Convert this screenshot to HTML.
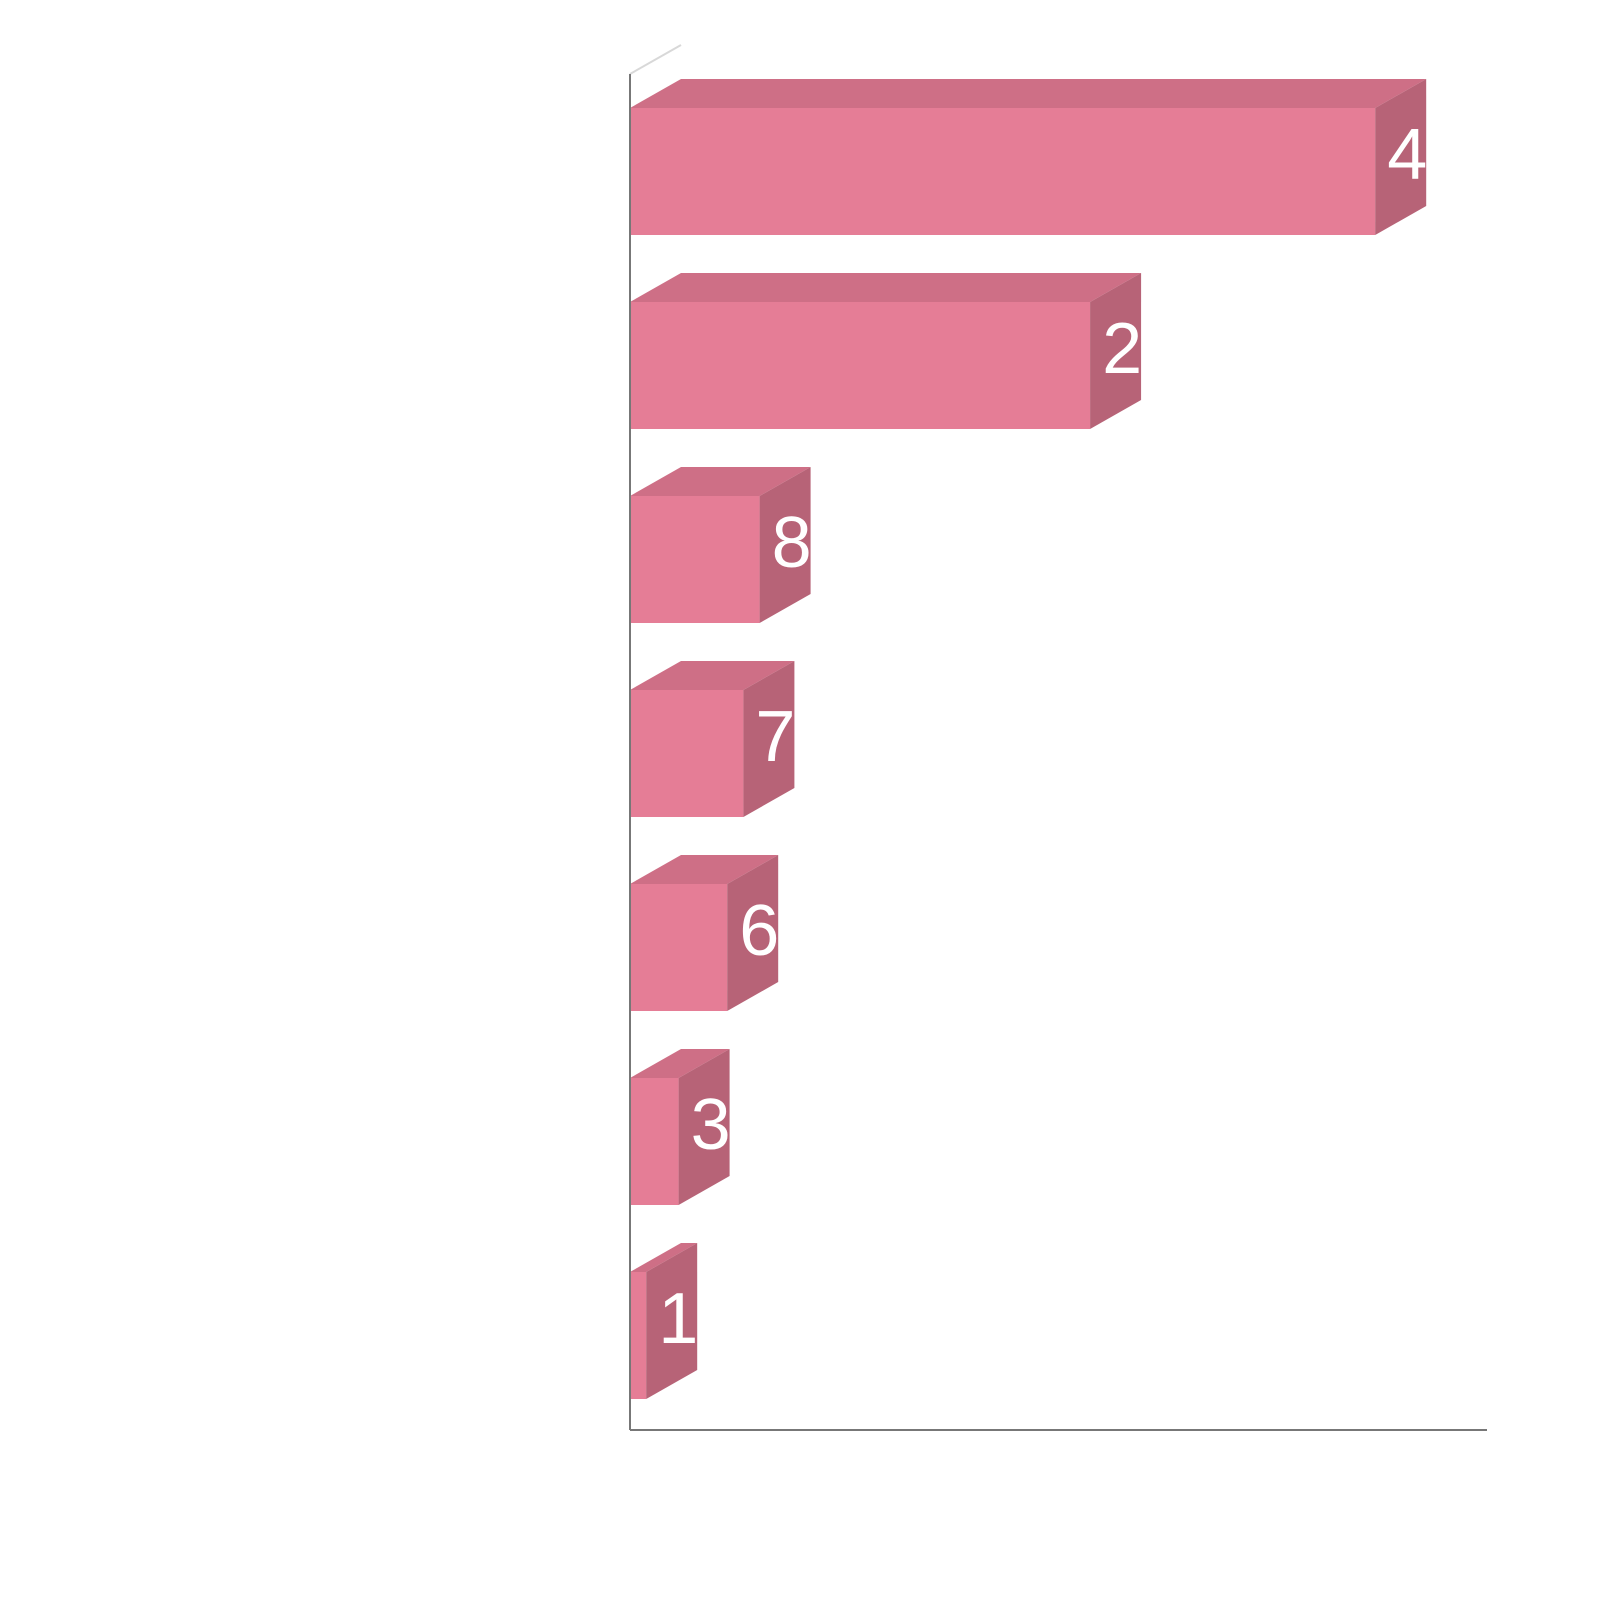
<!DOCTYPE html>
<html><head><meta charset="utf-8"><style>
html,body{margin:0;padding:0;background:#fff}
svg{display:block;font-family:"Liberation Sans",sans-serif}
</style></head><body>
<svg id="chart" width="1600" height="1600" viewBox="0 0 1600 1600">
<defs id="defs"></defs>
<line x1="630" y1="74" x2="681" y2="45" stroke="#d8d8d8" stroke-width="2"/>
<g id="bars"></g>
<line x1="630" y1="74" x2="630" y2="1430" stroke="#777" stroke-width="2"/>
<line x1="630" y1="1430" x2="1487" y2="1430" stroke="#777" stroke-width="2"/>
</svg>
<script>
const categories = ["A","B","C","D","E","F","G"];
const values = [46, 28.4, 8, 7, 6, 3, 1];
const labels = ["46","28","8","7","6","3","1"];

const x0 = 630, scale = 16.2, dx = 51, dy = 29;
const top0 = 108, step = 194, barH = 127;
const xScale = v => x0 + v * scale;
const yBand = i => top0 + i * step;
const ns = "http://www.w3.org/2000/svg";
const g = document.getElementById("bars");
const defs = document.getElementById("defs");
function mk(tag, attrs, parent){
  const e = document.createElementNS(ns, tag);
  for (const k in attrs) e.setAttribute(k, attrs[k]);
  parent.appendChild(e); return e;
}
values.forEach((v, i) => {
  const xr = xScale(v), yt = yBand(i), yb = yt + barH;
  const grp = mk("g", {}, g);
  
  
  const top = mk("polygon", {points: `${x0},${yt} ${x0+dx},${yt-dy} ${xr+dx},${yt-dy} ${xr},${yt}`, fill: "#CE6F86"}, grp);
  
  
  const front = mk("rect", {x: x0, y: yt, width: xr - x0, height: barH, fill: "#E57D96"}, grp);
  
  
  const side = mk("polygon", {points: `${xr},${yt} ${xr+dx},${yt-dy} ${xr+dx},${yb-dy} ${xr},${yb}`, fill: "#B76377"}, grp);
  
  
  const cp = mk("clipPath", {id: "clip" + i}, defs);
  mk("rect", {x: 0, y: 0, width: xr + dx, height: 1600}, cp);
  const t = mk("text", {x: xr + 12, y: yt + 71, fill: "#fff", "font-size": "72", "clip-path": `url(#clip${i})`}, grp);
  
  
  t.textContent = labels[i];
});
</script>
</body></html>
